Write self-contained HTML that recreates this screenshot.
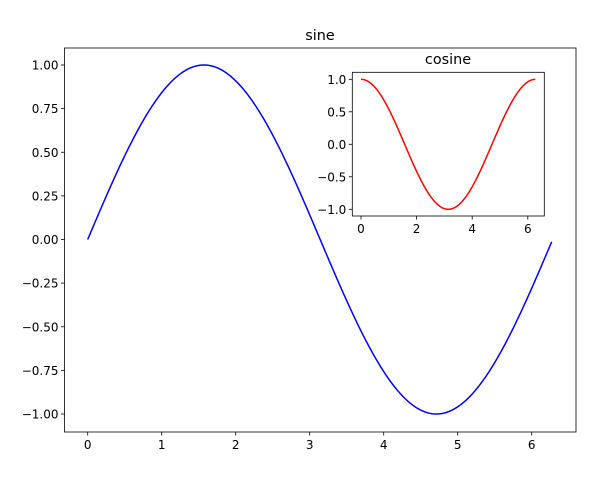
<!DOCTYPE html>
<html><head><meta charset="utf-8"><style>
html,body{margin:0;padding:0;background:#fff;}
svg{display:block;font-family:"DejaVu Sans","Liberation Sans",sans-serif;}
</style></head><body>
<svg id="s" width="600" height="480" xmlns="http://www.w3.org/2000/svg">
<rect width="600" height="480" fill="#fff"/>
</svg>
<script>
const s=document.getElementById('s');const NS='http://www.w3.org/2000/svg';
function el(t,a,txt){const e=document.createElementNS(NS,t);for(const k in a)e.setAttribute(k,a[k]);if(txt!==undefined)e.textContent=txt;s.appendChild(e);return e;}
function axes(L,T,R,B,xpu,x0,ypu,y0,f,col,xt,yt,fmt,title,tx,ty){
  el('rect',{x:L,y:T,width:R-L,height:B-T,fill:'#fff'});
  let d='';const xm=6.27;for(let i=0;i<=400;i++){const x=i/400*xm;d+=(i?'L':'M')+(x0+x*xpu).toFixed(2)+','+(y0-f(x)*ypu).toFixed(2);}
  el('path',{d:d,fill:'none',stroke:col,'stroke-width':1.5});
  el('rect',{x:L,y:T,width:R-L,height:B-T,fill:'none',stroke:'#000','stroke-width':0.8});
  xt.forEach(v=>{const X=x0+v*xpu;el('line',{x1:X,x2:X,y1:B,y2:B+3.5,stroke:'#000','stroke-width':0.8});el('text',{x:X,y:B+17,'font-size':'12px','text-anchor':'middle',fill:'#000'},String(v));});
  yt.forEach(v=>{const Y=y0-v*ypu;el('line',{x1:L,x2:L-3.5,y1:Y,y2:Y,stroke:'#000','stroke-width':0.8});el('text',{x:L-6,y:Y+4.5,'font-size':'12px','text-anchor':'end',fill:'#000'},(v<0?'\u2212':'')+Math.abs(v).toFixed(fmt));});
  el('text',{x:tx,y:ty,'font-size':'14.4px','text-anchor':'middle',fill:'#000'},title);
}
axes(64.5,48,576,432,74.0,87.7,174.5,239.5,Math.sin,'#0000ff',[0,1,2,3,4,5,6],[1,0.75,0.5,0.25,0,-0.25,-0.5,-0.75,-1],2,'sine',320,40);
axes(352.3,72.3,544.3,216,27.8,361,65,144.3,Math.cos,'#ff0000',[0,2,4,6],[1,0.5,0,-0.5,-1],1,'cosine',448,64);
</script>
</body></html>
